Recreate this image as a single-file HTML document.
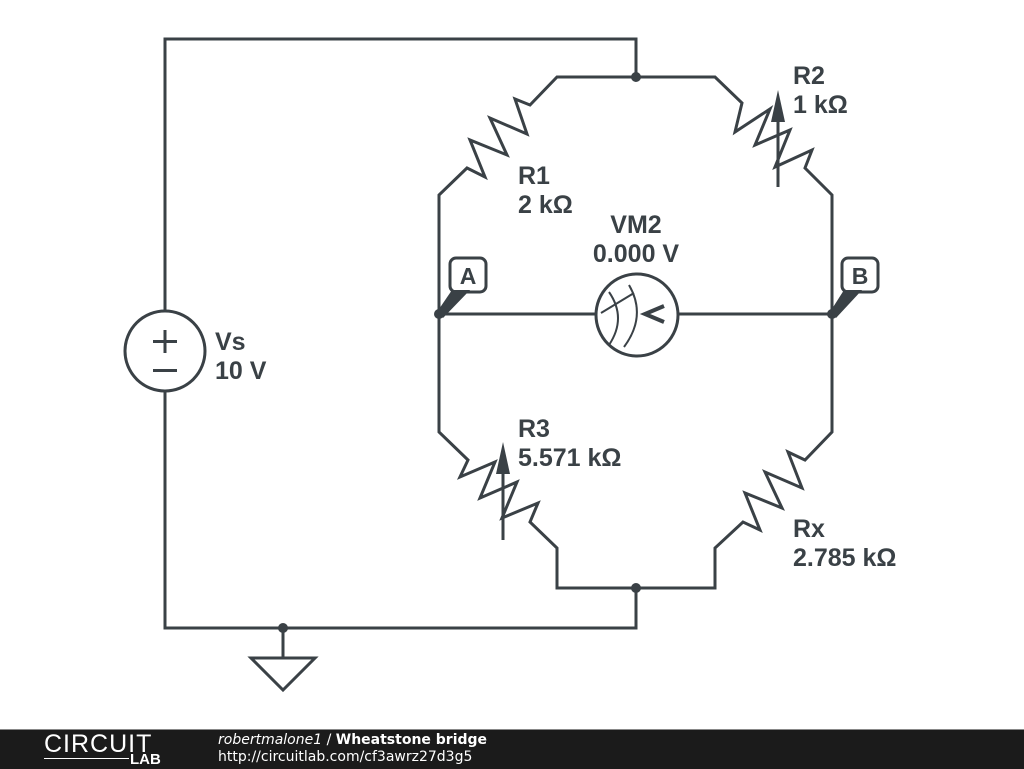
<!DOCTYPE html>
<html><head><style>
body{margin:0;width:1024px;height:768px;background:#fff;overflow:hidden;position:relative;font-family:"Liberation Sans",sans-serif}
.ft{position:absolute;left:0;top:729px;width:1024px;height:39px;background:#1b1b1b;border-top:1px solid #888}
</style></head><body>
<svg width="1024" height="729" style="position:absolute;left:0;top:0">
<g fill="none" stroke="#3a4146" stroke-width="3" stroke-linejoin="miter">
<polyline points="165,310 165,39 636,39 636,77"/>
<polyline points="165,392 165,628 636,628 636,588"/>
<polyline points="283,628 283,658"/>
<polygon points="251,658 315,658 283,690"/>
<circle cx="165" cy="351" r="40"/>
<polyline points="636,77 557,77 530,105 515,99 527,134 490,118 507,155 470,140 485,177 467,168 439,195 439,432 468,460 460,477 495,462 480,498 517,482 502,518 538,503 530,522 557,548 557,588 715,588 715,548 743,522 760,530 745,493 782,508 765,472 802,488 788,452 805,460 832,432 832,195 805,168 812,150 775,167 790,130 755,145 770,109 735,132 742,103 715,77 636,77"/>
<line x1="778" y1="187" x2="778" y2="110"/>
<line x1="503" y1="540" x2="503" y2="462"/>
<line x1="439" y1="314" x2="596" y2="314"/>
<line x1="678" y1="314" x2="832" y2="314"/>
<circle cx="637" cy="315" r="41"/>
<path d="M609,292 Q627,318 609,345" stroke-width="2"/>
<path d="M629,285 Q647,316 624,347" stroke-width="2"/>
<line x1="601" y1="313" x2="634" y2="293" stroke-width="2"/>
<polyline points="664,306 645,314 664,322" stroke-width="4"/>
<rect x="450" y="258" width="36" height="34" rx="6"/>
<rect x="842" y="258" width="36" height="34" rx="6"/>
</g>
<g fill="#3a4146">
<circle cx="636" cy="77" r="5"/><circle cx="636" cy="588" r="5"/><circle cx="283" cy="628" r="5"/>
<circle cx="439" cy="314" r="5"/><circle cx="832" cy="314" r="5"/>
<polygon points="778,90 771,122 785,122"/>
<polygon points="503,442 496,474 510,474"/>
<polygon points="437,312 452,290 470,290 443,318"/>
<polygon points="830,312 844,290 862,290 836,318"/>
<rect x="153" y="340" width="24" height="3"/><rect x="163.5" y="330" width="3" height="23"/>
<rect x="153" y="369" width="24" height="3"/>
</g>
<g fill="#3a4146" font-family="Liberation Sans,sans-serif" font-weight="bold" font-size="25">
<text x="518" y="184">R1</text><text x="518" y="213">2 kΩ</text>
<text x="636" y="233" text-anchor="middle">VM2</text><text x="636" y="262" text-anchor="middle">0.000 V</text>
<text x="793" y="84">R2</text><text x="793" y="113">1 kΩ</text>
<text x="215" y="350">Vs</text><text x="215" y="379">10 V</text>
<text x="518" y="437">R3</text><text x="518" y="466">5.571 kΩ</text>
<text x="793" y="537">Rx</text><text x="793" y="566">2.785 kΩ</text>
</g>
<g fill="#3a4146" font-family="Liberation Sans,sans-serif" font-weight="bold" font-size="23">
<text x="468" y="284" text-anchor="middle">A</text><text x="860" y="284" text-anchor="middle">B</text>
</g>
</svg>
<div class="ft">
<div style="position:absolute;left:44px;top:1px;color:#fff;font-size:25px;letter-spacing:1px;font-weight:300;line-height:26px">CIRCUIT</div>
<div style="position:absolute;left:44px;top:28px;width:85px;height:1px;background:#fff"></div>
<div style="position:absolute;left:130px;top:22px;color:#fff;font-size:15px;font-weight:bold;line-height:15px">LAB</div>
<div style="position:absolute;left:218px;top:2px;color:#fff;font-size:14px;line-height:17px;font-family:'DejaVu Sans',sans-serif"><i>robertmalone1</i> / <b>Wheatstone bridge</b><br>http://circuitlab.com/cf3awrz27d3g5</div>
</div>
</body></html>
